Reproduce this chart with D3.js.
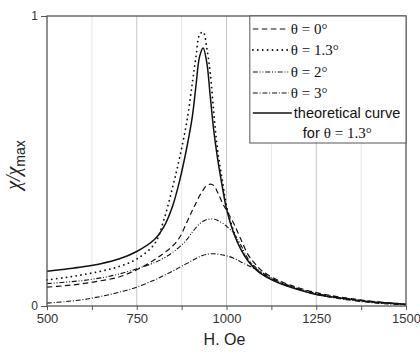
<!DOCTYPE html>
<html>
<head>
<meta charset="utf-8">
<script src="https://cdn.jsdelivr.net/npm/d3@7"></script>
<style>
  body { margin: 0; background: #fff; }
</style>
</head>
<body>
<div id="chart"></div>
<script>
const fieldOe = [500, 550, 600, 650, 700, 750, 800, 825, 850, 870, 890, 905, 915, 925, 935, 945, 955, 965, 975, 990, 1000, 1020, 1040, 1060, 1080, 1100, 1150, 1200, 1250, 1300, 1350, 1400, 1450, 1500];

const theta0 = [0.065, 0.070, 0.077, 0.087, 0.100, 0.125, 0.160, 0.182, 0.207, 0.238, 0.290, 0.330, 0.355, 0.380, 0.400, 0.415, 0.420, 0.415, 0.392, 0.352, 0.330, 0.285, 0.230, 0.177, 0.145, 0.120, 0.085, 0.063, 0.046, 0.034, 0.025, 0.017, 0.011, 0.006];
const theta13 = [0.090, 0.098, 0.108, 0.120, 0.136, 0.162, 0.215, 0.295, 0.410, 0.515, 0.640, 0.770, 0.860, 0.935, 0.945, 0.890, 0.800, 0.660, 0.540, 0.420, 0.345, 0.258, 0.198, 0.158, 0.130, 0.110, 0.078, 0.058, 0.042, 0.031, 0.022, 0.015, 0.010, 0.006];
const theta2 = [0.077, 0.082, 0.088, 0.097, 0.110, 0.128, 0.150, 0.165, 0.185, 0.205, 0.230, 0.255, 0.270, 0.283, 0.292, 0.298, 0.300, 0.300, 0.295, 0.285, 0.275, 0.250, 0.210, 0.163, 0.135, 0.115, 0.082, 0.060, 0.044, 0.032, 0.023, 0.016, 0.010, 0.006];
const theta3 = [0.010, 0.015, 0.022, 0.033, 0.047, 0.065, 0.090, 0.105, 0.120, 0.134, 0.147, 0.157, 0.164, 0.170, 0.175, 0.178, 0.180, 0.180, 0.179, 0.176, 0.173, 0.165, 0.152, 0.140, 0.127, 0.112, 0.080, 0.057, 0.040, 0.028, 0.019, 0.012, 0.007, 0.004];
const theory13 = [0.120, 0.127, 0.135, 0.146, 0.162, 0.188, 0.230, 0.272, 0.345, 0.435, 0.550, 0.655, 0.760, 0.860, 0.890, 0.840, 0.720, 0.600, 0.510, 0.400, 0.335, 0.252, 0.195, 0.155, 0.128, 0.108, 0.077, 0.057, 0.040, 0.030, 0.022, 0.015, 0.010, 0.006];

const xMajorTicks = [500, 750, 1000, 1250, 1500];
const xMinorTicks = [625, 875, 1125, 1375];
const yTicks = [0, 1];

const series = [
  { name: "θ = 0°", values: theta0, dash: "5.5,3.5", width: 1.2, cap: "butt" },
  { name: "θ = 1.3°", values: theta13, dash: "0.1,4.8", width: 1.8, cap: "round" },
  { name: "θ = 2°", values: theta2, dash: "5,1.8,1,1.8,1,1.8", width: 1.1, cap: "butt" },
  { name: "θ = 3°", values: theta3, dash: "5,1.8,1,1.8", width: 1.1, cap: "butt" },
  { name: "theoretical curve", values: theory13, dash: null, width: 1.5, cap: "butt" },
];

const dimensions = {
  width: 420,
  height: 352,
  margin: { top: 16, right: 14, bottom: 46, left: 47 },
};
dimensions.boundedWidth = dimensions.width - dimensions.margin.left - dimensions.margin.right;
dimensions.boundedHeight = dimensions.height - dimensions.margin.top - dimensions.margin.bottom;

const svg = d3.select("#chart")
  .append("svg")
  .attr("width", dimensions.width)
  .attr("height", dimensions.height);

const bounds = svg.append("g")
  .attr("transform", `translate(${dimensions.margin.left},${dimensions.margin.top})`);

const xScale = d3.scaleLinear()
  .domain([500, 1500])
  .range([0, dimensions.boundedWidth]);

const yScale = d3.scaleLinear()
  .domain([0, 1])
  .range([dimensions.boundedHeight, 0]);

// grid
bounds.append("g")
  .selectAll("line")
  .data(xMinorTicks)
  .join("line")
  .attr("x1", d => xScale(d)).attr("x2", d => xScale(d))
  .attr("y1", 0).attr("y2", dimensions.boundedHeight)
  .attr("stroke", "#e8e8e8");

bounds.append("g")
  .selectAll("line")
  .data(xMajorTicks.slice(1, -1))
  .join("line")
  .attr("x1", d => xScale(d)).attr("x2", d => xScale(d))
  .attr("y1", 0).attr("y2", dimensions.boundedHeight)
  .attr("stroke", "#c4c4c4");

// curves
const lineGenerator = d3.line()
  .x((d, i) => xScale(fieldOe[i]))
  .y(d => yScale(d))
  .curve(d3.curveCatmullRom.alpha(0.5));

bounds.append("g")
  .selectAll("path")
  .data(series)
  .join("path")
  .attr("d", d => lineGenerator(d.values))
  .attr("fill", "none")
  .attr("stroke", "#111")
  .attr("stroke-width", d => d.width)
  .attr("stroke-dasharray", d => d.dash)
  .attr("stroke-linecap", d => d.cap);

// frame
bounds.append("rect")
  .attr("width", dimensions.boundedWidth)
  .attr("height", dimensions.boundedHeight)
  .attr("fill", "none")
  .attr("stroke", "#555")
  .attr("stroke-width", 1.3);

// axes
const xAxis = bounds.append("g")
  .attr("transform", `translate(0,${dimensions.boundedHeight})`)
  .call(d3.axisBottom(xScale).tickValues(xMajorTicks.concat(xMinorTicks)).tickSize(4)
    .tickFormat(d => xMajorTicks.includes(d) ? d : ""));
xAxis.select(".domain").remove();
xAxis.selectAll("line").attr("stroke", "#555");
xAxis.selectAll("text")
  .attr("dy", 10)
  .attr("fill", "#333")
  .style("font", "13px Arial, 'Liberation Sans', sans-serif");

const yAxis = bounds.append("g")
  .call(d3.axisLeft(yScale).tickValues(yTicks).tickSize(6).tickFormat(d3.format("d")));
yAxis.select(".domain").remove();
yAxis.selectAll("line").attr("stroke", "#555");
yAxis.selectAll("text")
  .attr("x", -9)
  .attr("fill", "#333")
  .style("font", "12px Arial, 'Liberation Sans', sans-serif");

// axis titles
svg.append("text")
  .attr("x", dimensions.margin.left + xScale(1000) - 2)
  .attr("y", 345)
  .attr("text-anchor", "middle")
  .attr("fill", "#222")
  .style("font", "16px Arial, 'Liberation Sans', sans-serif")
  .text("H. Oe");

const yTitle = svg.append("text")
  .attr("transform", `translate(20,165) rotate(-90)`)
  .attr("text-anchor", "middle")
  .attr("fill", "#222")
  .style("font", "20px 'Liberation Serif', 'Times New Roman', serif");
yTitle.append("tspan").style("font-style", "italic").text("χ/χ");
yTitle.append("tspan")
  .attr("dy", 5)
  .style("font", "14px Arial, 'Liberation Sans', sans-serif")
  .text("max");

// legend
const legendLeft = dimensions.margin.left + xScale(1065);
const legend = svg.append("g")
  .attr("transform", `translate(${legendLeft},${dimensions.margin.top})`);

legend.append("rect")
  .attr("width", dimensions.margin.left + dimensions.boundedWidth - legendLeft)
  .attr("height", 127)
  .attr("fill", "#fff")
  .attr("stroke", "#555")
  .attr("stroke-width", 1);

const rowY = [13, 34, 56, 77, 97];
const rows = legend.selectAll(".row")
  .data(series)
  .join("g")
  .attr("transform", (d, i) => `translate(0,${rowY[i]})`);

rows.append("line")
  .attr("x1", 3).attr("x2", (d, i) => i === 4 ? 42 : 39)
  .attr("stroke", "#111")
  .attr("stroke-width", d => d.width)
  .attr("stroke-dasharray", d => d.dash)
  .attr("stroke-linecap", d => d.cap);

rows.append("text")
  .attr("x", (d, i) => i === 4 ? 44 : 41)
  .attr("y", 5)
  .attr("fill", "#111")
  .style("font", (d, i) => i === 4
    ? "14.5px Arial, 'Liberation Sans', sans-serif"
    : "15px 'Liberation Serif', 'Times New Roman', serif")
  .text(d => d.name);

const forText = legend.append("text")
  .attr("x", 53)
  .attr("y", 122)
  .attr("fill", "#111");
forText.append("tspan")
  .style("font", "14.5px Arial, 'Liberation Sans', sans-serif")
  .text("for ");
forText.append("tspan")
  .style("font", "15px 'Liberation Serif', 'Times New Roman', serif")
  .text("θ = 1.3°");
</script>
</body>
</html>
